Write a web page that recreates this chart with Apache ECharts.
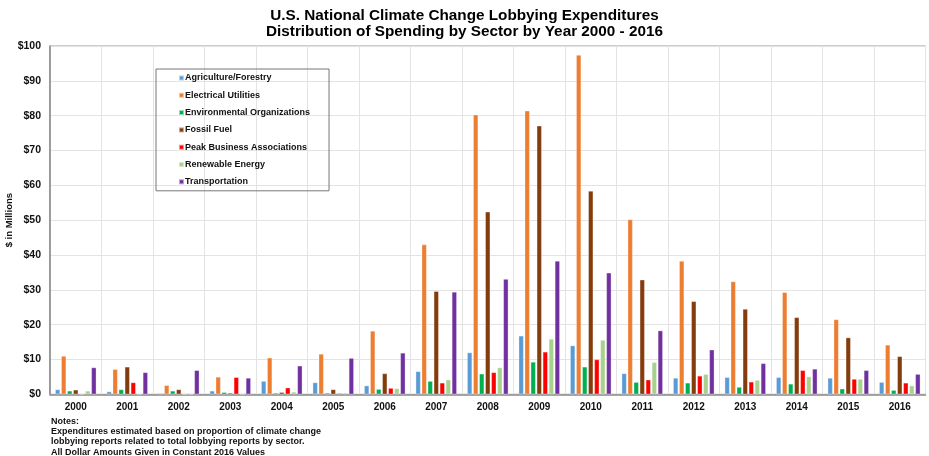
<!DOCTYPE html>
<html><head><meta charset="utf-8">
<script src="https://cdn.jsdelivr.net/npm/echarts@6/dist/echarts.min.js"></script>
<style>html,body{margin:0;padding:0;background:#fff}#c{width:929px;height:456px}</style>
</head><body><div id="c"></div>
<script>
const years = ['2000','2001','2002','2003','2004','2005','2006','2007','2008','2009','2010','2011','2012','2013','2014','2015','2016'];
const yTicks = [0,10,20,30,40,50,60,70,80,90,100];
const agriculture = [1.4,0.8,0.3,1.0,3.8,3.4,2.5,6.6,12.0,16.8,14.0,6.0,4.7,4.9,4.9,4.7,3.5];
const electrical  = [11.0,7.2,2.6,5.0,10.5,11.6,18.2,43.0,80.3,81.4,97.4,50.2,38.3,32.4,29.3,21.5,14.2];
const environmental = [1.0,1.4,1.0,0.6,0.4,0.4,1.5,3.8,5.9,9.3,7.9,3.5,3.3,2.1,3.0,1.6,1.2];
const fossil = [1.3,7.9,1.4,0.4,0.6,1.4,6.0,29.6,52.4,77.1,58.4,32.9,26.7,24.5,22.1,16.3,10.9];
const peak = [0,3.4,0,4.9,1.9,0.3,1.8,3.3,6.3,12.2,10.0,4.2,5.3,3.6,6.9,4.4,3.3];
const renewable = [1.0,0,0,0,0.7,0.4,1.7,4.2,7.7,15.9,15.6,9.2,5.8,4.1,5.1,4.4,2.5];
const transportation = [7.7,6.3,6.9,4.7,8.2,10.4,11.9,29.4,33.1,38.3,34.9,18.3,12.8,8.9,7.3,6.9,5.8];
const seriesNames = ['Agriculture/Forestry','Electrical Utilities','Environmental Organizations','Fossil Fuel','Peak Business Associations','Renewable Energy','Transportation'];
const seriesColors = ['#5B9BD5','#ED7D31','#00B050','#843C0C','#FF0000','#A9D18E','#7030A0'];
const seriesData = [agriculture, electrical, environmental, fossil, peak, renewable, transportation];

const chart = echarts.init(document.getElementById('c'), null, {renderer:'canvas'});
const FF = 'Liberation Sans, Arial, sans-serif';
chart.setOption({
  animation:false,
  title:{
    text:'U.S. National Climate Change Lobbying Expenditures\nDistribution of Spending by Sector by Year 2000 - 2016',
    left:'center', top:3,
    textStyle:{fontFamily:FF,fontSize:15.3,fontWeight:'bold',color:'#000',lineHeight:16}
  },
  legend:{
    orient:'vertical', left:156, top:69,
    padding:[3,19,3,22],
    itemWidth:5, itemHeight:5, itemGap:5.3,
    icon:'rect',
    borderColor:'#777', borderWidth:1,
    textStyle:{fontFamily:FF,fontSize:9,fontWeight:'bold',color:'#111',lineHeight:12,padding:[0,0,0,-4]},
    data:seriesNames
  },
  grid:{left:50,right:3.5,top:46,bottom:61.7,show:true,borderColor:'#999',borderWidth:1,containLabel:false,outerBoundsMode:'none'},
  xAxis:{
    type:'category', data:years,
    axisLine:{show:true,lineStyle:{color:'#888',width:1.5}},
    axisTick:{show:false},
    axisLabel:{fontFamily:FF,fontSize:10,fontWeight:'bold',color:'#111',margin:8},
    splitLine:{show:true,lineStyle:{color:'#e3e3e3'}}
  },
  yAxis:{
    type:'value', min:0, max:100, interval:10,
    name:'$ in Millions', nameLocation:'middle', nameGap:36, nameRotate:90, nameMoveOverlap:false,
    nameTextStyle:{fontFamily:FF,fontSize:9.5,fontWeight:'bold',color:'#111'},
    axisLine:{show:true,lineStyle:{color:'#888',width:1.5}},
    axisTick:{show:false},
    axisLabel:{fontFamily:FF,fontSize:10.5,fontWeight:'bold',color:'#111',margin:9,
      formatter:function(v){return yTicks.indexOf(v)>=0 ? '$'+v : '';}},
    splitLine:{show:true,lineStyle:{color:'#e3e3e3'}}
  },
  graphic:[{
    type:'text', left:51, top:416,
    style:{text:'Notes:\nExpenditures estimated based on proportion of climate change\nlobbying reports related to total lobbying reports by sector.\nAll Dollar Amounts Given in Constant 2016 Values',
      font:'bold 9px Liberation Sans, Arial, sans-serif', fill:'#111', lineHeight:10.3}
  }],
  series: seriesNames.map(function(n,i){
    return {name:n,type:'bar',data:seriesData[i],barCategoryGap:'20%',barGap:'20%',
      itemStyle:{color:seriesColors[i],borderColor:'rgba(255,255,255,0.55)',borderWidth:0.6}};
  })
});
</script></body></html>
